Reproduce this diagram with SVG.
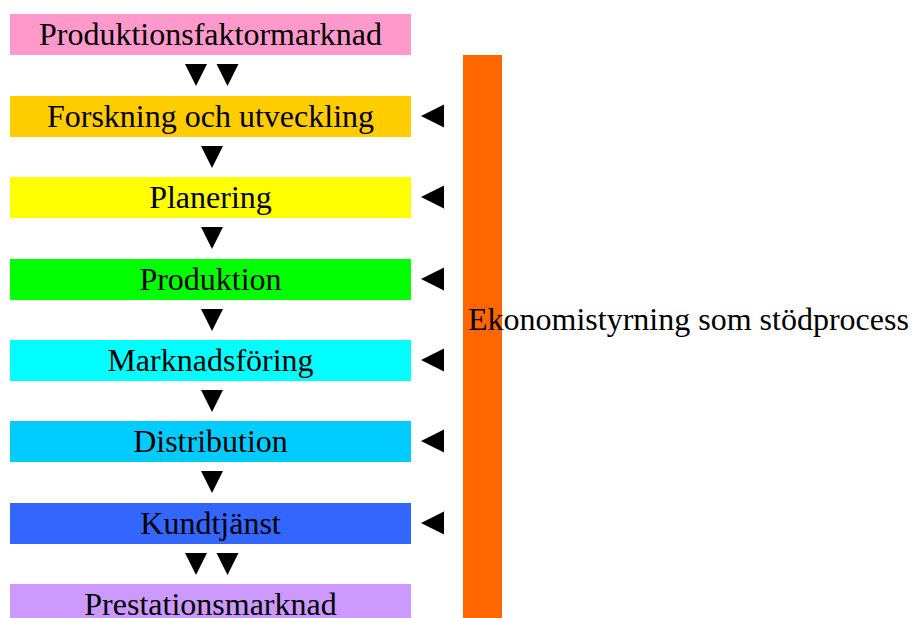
<svg xmlns="http://www.w3.org/2000/svg" width="913" height="618" viewBox="0 0 913 618">
  <style>
    .lbl { font-family: "Liberation Serif", "Times New Roman", serif; font-size: 32px; fill: #000; }
    .mid { text-anchor: middle; }
    .arrow { fill: #000; }
  </style>
  <rect width="913" height="618" fill="#fff"/>

  <!-- support process bar -->
  <g id="support">
    <rect x="463" y="55" width="39" height="563" fill="#FF6600"/>
    <text class="lbl" x="468" y="330">Ekonomistyrning som stödprocess</text>
  </g>

  <!-- process chain -->
  <g id="n-produktionsfaktormarknad">
    <rect x="10" y="14" width="401" height="41" fill="#FF99CC"/>
    <text class="lbl mid" x="210.5" y="45">Produktionsfaktormarknad</text>
  </g>
  <g id="n-forskning">
    <rect x="10" y="96" width="401" height="41" fill="#FFCC00"/>
    <text class="lbl mid" x="210.5" y="127">Forskning och utveckling</text>
  </g>
  <g id="n-planering">
    <rect x="10" y="177" width="401" height="41" fill="#FFFF00"/>
    <text class="lbl mid" x="210.5" y="208">Planering</text>
  </g>
  <g id="n-produktion">
    <rect x="10" y="259" width="401" height="41" fill="#00FF00"/>
    <text class="lbl mid" x="210.5" y="290">Produktion</text>
  </g>
  <g id="n-marknadsforing">
    <rect x="10" y="340" width="401" height="41" fill="#00FFFF"/>
    <text class="lbl mid" x="210.5" y="371">Marknadsföring</text>
  </g>
  <g id="n-distribution">
    <rect x="10" y="421" width="401" height="41" fill="#00CCFF"/>
    <text class="lbl mid" x="210.5" y="452">Distribution</text>
  </g>
  <g id="n-kundtjanst">
    <rect x="10" y="503" width="401" height="41" fill="#3366FF"/>
    <text class="lbl mid" x="210.5" y="534">Kundtjänst</text>
  </g>
  <g id="n-prestationsmarknad">
    <rect x="10" y="584" width="401" height="41" fill="#CC99FF"/>
    <text class="lbl mid" x="210.5" y="615">Prestationsmarknad</text>
  </g>

  <!-- connectors: flow arrows between steps and from the support bar -->
  <g id="connectors" class="arrow">
    <!-- double arrows -->
    <polygon points="185,64 207,64 196,86"/>
    <polygon points="216.5,64 238.5,64 227.5,86"/>
    <polygon points="185,553 207,553 196,575"/>
    <polygon points="216.5,553 238.5,553 227.5,575"/>
    <!-- single arrows -->
    <polygon points="201,146 223,146 212,168"/>
    <polygon points="201,227 223,227 212,249"/>
    <polygon points="201,309 223,309 212,331"/>
    <polygon points="201,390 223,390 212,412"/>
    <polygon points="201,471 223,471 212,493"/>
    <!-- arrows from support bar -->
    <polygon points="421,116 444,104.5 444,127.5"/>
    <polygon points="421,197 444,185.5 444,208.5"/>
    <polygon points="421,279 444,267.5 444,290.5"/>
    <polygon points="421,360 444,348.5 444,371.5"/>
    <polygon points="421,441 444,429.5 444,452.5"/>
    <polygon points="421,523 444,511.5 444,534.5"/>
  </g>
</svg>
